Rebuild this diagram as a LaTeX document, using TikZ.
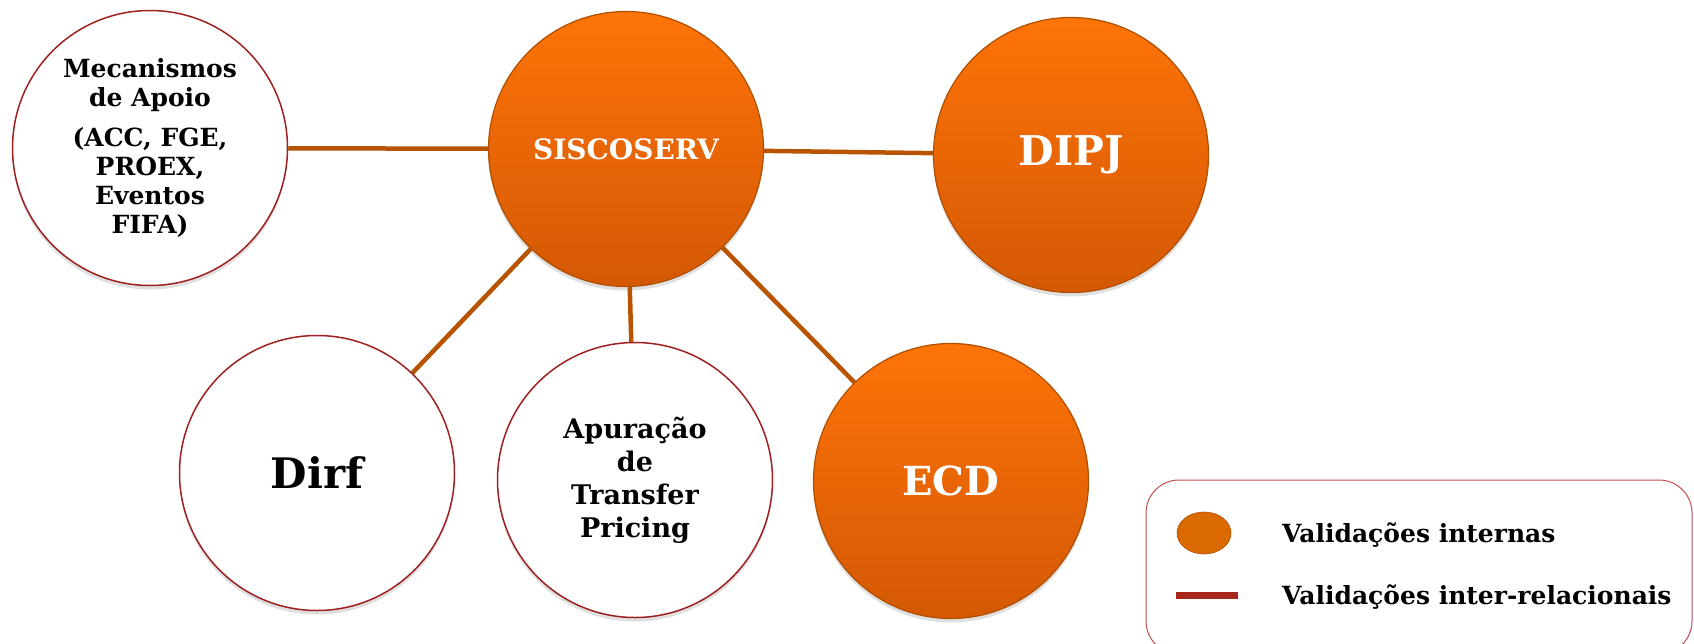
\documentclass[tikz,border=0pt]{standalone}
\usepackage{fontspec}
\setmainfont{DejaVu Serif}
\usepackage{tikz}
\usetikzlibrary{shapes.geometric,shadows}

\definecolor{orangeTop}{RGB}{253,116,8}
\definecolor{orangeBottom}{RGB}{212,88,4}
\definecolor{orangeEdge}{RGB}{176,78,0}
\definecolor{linkColor}{RGB}{184,84,0}
\definecolor{redEdge}{RGB}{158,32,32}
\definecolor{legendOrange}{RGB}{218,106,0}
\definecolor{legendRed}{RGB}{168,38,28}
\definecolor{boxEdge}{RGB}{196,80,80}

\begin{document}
\begin{tikzpicture}[x=1pt,y=-1pt,
        interna/.style={circle, minimum size=275pt, inner sep=0pt, top color=orangeTop, bottom color=orangeBottom, draw=orangeEdge, line width=1.2pt, text=white, drop shadow={opacity=0.25, shadow xshift=0pt, shadow yshift=-4pt}},
        externa/.style={circle, minimum size=275pt, inner sep=0pt, fill=white, draw=redEdge, line width=1.5pt, align=center, drop shadow={opacity=0.25, shadow xshift=0pt, shadow yshift=-4pt}},
        ligacao/.style={draw=linkColor, line width=4.5pt}]

                \useasboundingbox (0,0) rectangle (1694,643);

                \node[externa, font=\bfseries\fontsize{25}{29}\selectfont] (nodeMecanismos) at (150,148) {Mecanismos\\de Apoio\\[11pt](ACC, FGE,\\PROEX,\\Eventos\\FIFA)};
                \node[interna, font=\bfseries\fontsize{28}{34}\selectfont] (nodeSiscoserv) at (626,149) {SISCOSERV};
                \node[interna, font=\bfseries\fontsize{41}{46}\selectfont] (nodeDipj) at (1071,155) {DIPJ};
                \node[externa, font=\bfseries\fontsize{42}{48}\selectfont] (nodeDirf) at (317,473) {Dirf};
                \node[externa, font=\bfseries\fontsize{27}{33}\selectfont] (nodeApuracao) at (635,480) {Apuração\\de\\Transfer\\Pricing};
                \node[interna, font=\bfseries\fontsize{40}{46}\selectfont] (nodeEcd) at (951,481) {ECD};

                \draw[ligacao] (nodeMecanismos) -- (nodeSiscoserv);
                \draw[ligacao] (nodeSiscoserv) -- (nodeDipj);
                \draw[ligacao] (nodeSiscoserv) -- (nodeDirf);
                \draw[ligacao] (nodeSiscoserv) -- (nodeApuracao);
                \draw[ligacao] (nodeSiscoserv) -- (nodeEcd);

                \draw[draw=boxEdge, line width=1pt, rounded corners=33pt] (1146,480) rectangle (1692,654);
                \node[ellipse, minimum width=54pt, minimum height=42pt, inner sep=0pt, fill=legendOrange, draw=orangeEdge, line width=0.6pt] (nodeLegInterna) at (1204,533) {};
                \coordinate (legLineA) at (1176,595);
                \coordinate (legLineB) at (1238,595);
                \draw[draw=legendRed, line width=7pt] (legLineA) -- (legLineB);
                \node[anchor=west, inner sep=0pt, font=\bfseries\fontsize{25}{30}\selectfont] (nodeTxtInterna) at (1282,535) {Validações internas};
                \node[anchor=west, inner sep=0pt, font=\bfseries\fontsize{25}{30}\selectfont] (nodeTxtRelacional) at (1282,597) {Validações inter-relacionais};

            \end{tikzpicture}
\end{document}
